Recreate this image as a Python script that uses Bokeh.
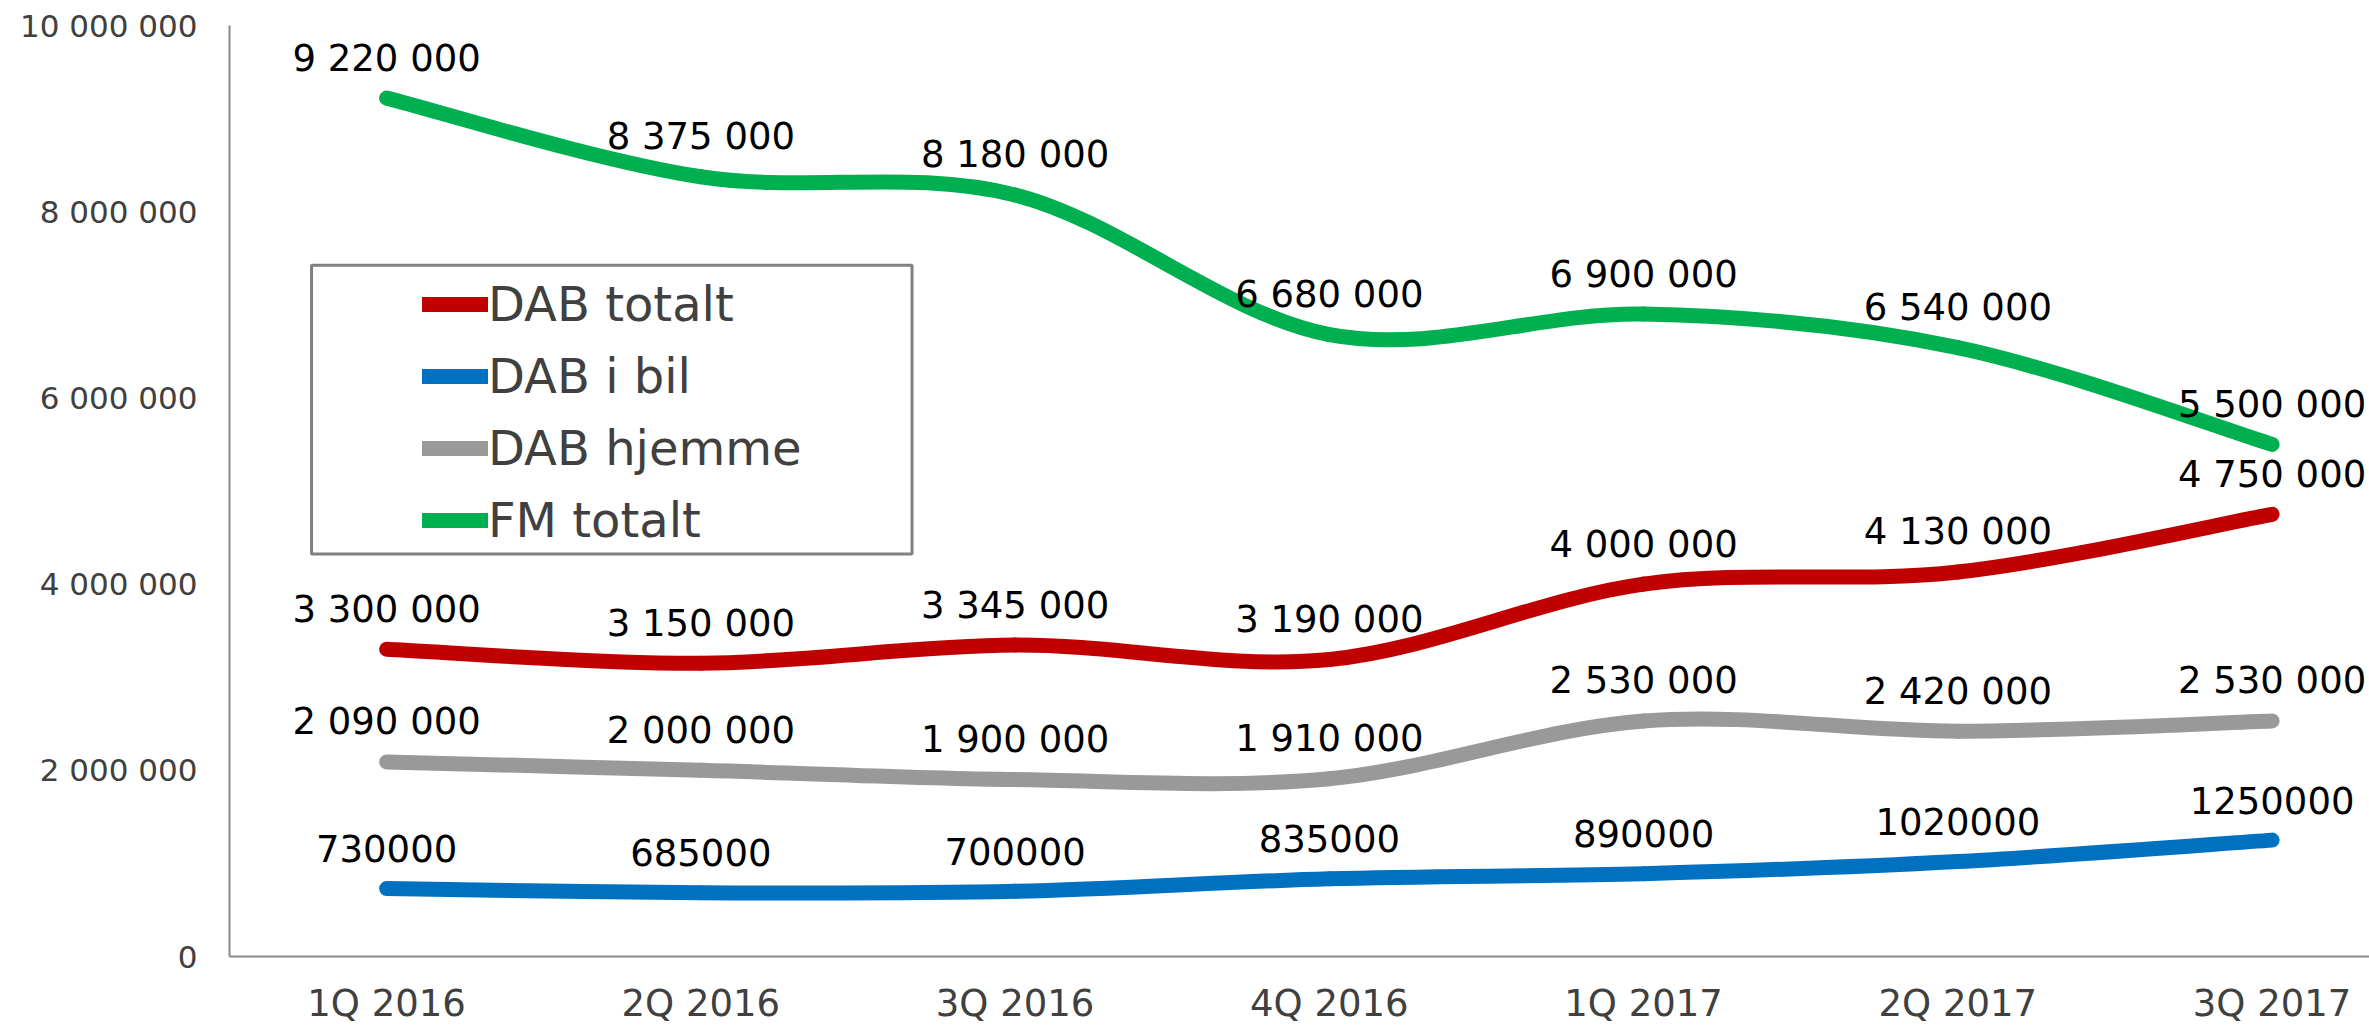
from bokeh.plotting import figure
from bokeh.models import (Range1d, FixedTicker, Legend, LegendItem, BoxAnnotation,
                          ColumnDataSource, LabelSet)
from bokeh.core.properties import value
from bokeh.embed import file_html
from bokeh.resources import INLINE

quarters = ["1Q 2016", "2Q 2016", "3Q 2016", "4Q 2016", "1Q 2017", "2Q 2017", "3Q 2017"]
dab_totalt = [3300000, 3150000, 3345000, 3190000, 4000000, 4130000, 4750000]
dab_i_bil = [730000, 685000, 700000, 835000, 890000, 1020000, 1250000]
dab_hjemme = [2090000, 2000000, 1900000, 1910000, 2530000, 2420000, 2530000]
fm_totalt = [9220000, 8375000, 8180000, 6680000, 6900000, 6540000, 5500000]
y_ticks = [0, 2000000, 4000000, 6000000, 8000000, 10000000]

series_names = ["DAB totalt", "DAB i bil", "DAB hjemme", "FM totalt"]
series_values = [dab_totalt, dab_i_bil, dab_hjemme, fm_totalt]
series_colors = ["#C00000", "#0070C0", "#999999", "#00B050"]
spaced_labels = [True, False, True, True]


def spaced(v):
    return f"{v:,}".replace(",", " ")


def bezier_source(vals):
    n = len(vals)
    pts = [(i, v) for i, v in enumerate(vals)]
    d = dict(x0=[], y0=[], x1=[], y1=[], cx0=[], cy0=[], cx1=[], cy1=[])
    for i in range(n - 1):
        p0 = pts[max(i - 1, 0)]
        p1 = pts[i]
        p2 = pts[i + 1]
        p3 = pts[min(i + 2, n - 1)]
        d["x0"].append(p1[0]); d["y0"].append(p1[1])
        d["x1"].append(p2[0]); d["y1"].append(p2[1])
        d["cx0"].append(p1[0] + (p2[0] - p0[0]) / 6.0)
        d["cy0"].append(p1[1] + (p2[1] - p0[1]) / 6.0)
        d["cx1"].append(p2[0] - (p3[0] - p1[0]) / 6.0)
        d["cy1"].append(p2[1] - (p3[1] - p1[1]) / 6.0)
    return ColumnDataSource(d)


p = figure(width=2369, height=1027,
           x_range=Range1d(-0.5, 6.31), y_range=Range1d(0, 10000000),
           output_backend="svg", toolbar_location=None,
           min_border_left=229, min_border_right=0,
           min_border_top=25, min_border_bottom=68)

p.xgrid.visible = False
p.ygrid.visible = False
p.outline_line_color = None
p.background_fill_color = "white"
p.border_fill_color = "white"

# axes
p.yaxis.ticker = FixedTicker(ticks=y_ticks)
p.yaxis.major_label_overrides = {t: spaced(t) for t in y_ticks}
p.xaxis.ticker = FixedTicker(ticks=list(range(len(quarters))))
p.xaxis.major_label_overrides = {i: q for i, q in enumerate(quarters)}
for ax in (p.xaxis, p.yaxis):
    ax.axis_line_color = "#888888"
    ax.axis_line_width = 2
    ax.major_tick_line_color = None
    ax.minor_tick_line_color = None
    ax.major_tick_out = 0
    ax.major_tick_in = 0
    ax.minor_tick_out = 0
    ax.minor_tick_in = 0
    ax.major_label_text_color = "#404040"
    ax.major_label_text_font = "DejaVu Sans"
p.yaxis.major_label_text_font_size = "31px"
p.yaxis.major_label_standoff = 32
p.xaxis.major_label_text_font_size = "37px"
p.xaxis.major_label_standoff = 25

# lines
renderers = []
for vals, color in zip(series_values, series_colors):
    r = p.bezier(x0="x0", y0="y0", x1="x1", y1="y1", cx0="cx0", cy0="cy0",
                 cx1="cx1", cy1="cy1", source=bezier_source(vals),
                 line_color=color, line_width=15, line_cap="round")
    renderers.append(r)

# data labels
for vals, sp in zip(series_values, spaced_labels):
    src = ColumnDataSource(dict(x=list(range(len(vals))), y=vals,
                                t=[spaced(v) if sp else str(v) for v in vals]))
    lbl = LabelSet(x="x", y="y", text="t", source=src, y_offset=40,
                   text_align="center", text_baseline="middle",
                   text_font=value("DejaVu Sans"), text_font_size=value("37px"),
                   text_color="black")
    p.add_layout(lbl)

# legend border
box = BoxAnnotation(left=-0.2389, right=1.672, top=7425000, bottom=4324000,
                    fill_alpha=0, fill_color=None, line_color="#808080",
                    line_alpha=1.0, line_width=3, level="overlay")
p.add_layout(box)

legend = Legend(items=[LegendItem(label=n, renderers=[r]) for n, r in zip(series_names, renderers)],
                location=(193, 400), padding=0, margin=0, spacing=0,
                glyph_width=66, glyph_height=72, label_height=72, label_standoff=0,
                label_text_font="DejaVu Sans", label_text_font_size="48px",
                label_text_color="#404040",
                border_line_color=None, background_fill_alpha=0)
p.add_layout(legend)

open("out.html", "w").write(file_html(p, INLINE))
